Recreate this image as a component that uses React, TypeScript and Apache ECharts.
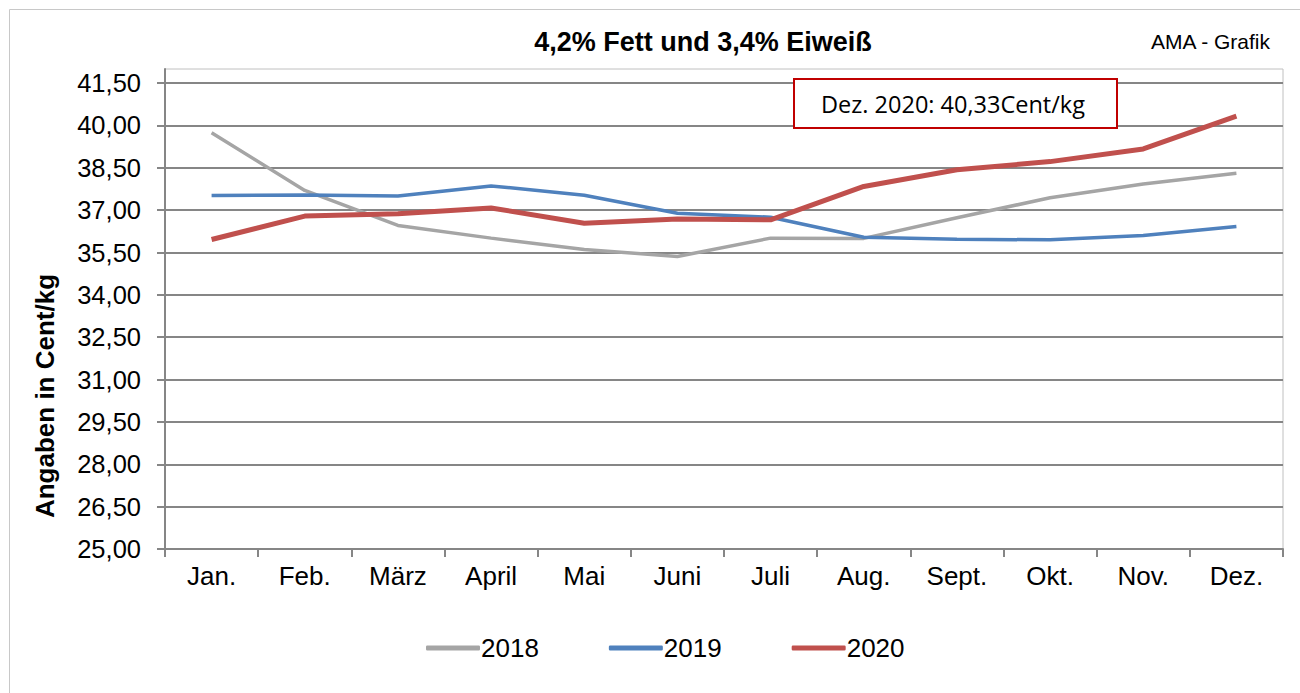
import React, { useEffect, useRef } from "react";
import * as echarts from "echarts";

const months = ["Jan.", "Feb.", "März", "April", "Mai", "Juni", "Juli", "Aug.", "Sept.", "Okt.", "Nov.", "Dez."];
const values2018 = [39.74, 37.7, 36.46, 36.01, 35.61, 35.36, 36.01, 36.0, 36.73, 37.44, 37.93, 38.31];
const values2019 = [37.52, 37.54, 37.5, 37.86, 37.53, 36.89, 36.75, 36.04, 35.97, 35.95, 36.1, 36.42];
const values2020 = [35.96, 36.79, 36.87, 37.08, 36.54, 36.69, 36.66, 37.84, 38.43, 38.72, 39.17, 40.33];
const yTicks = [25, 26.5, 28, 29.5, 31, 32.5, 34, 35.5, 37, 38.5, 40, 41.5];
const titleText = "4,2% Fett und 3,4% Eiweiß";
const sourceText = "AMA - Grafik";
const yAxisTitle = "Angaben in Cent/kg";
const noteText = "Dez. 2020: 40,33Cent/kg";

const FONT = "'Liberation Sans', Arial, sans-serif";

export default function App() {
  const ref = useRef<HTMLDivElement>(null);
  useEffect(() => {
    if (!ref.current) return;
    const chart = echarts.init(ref.current, undefined, { renderer: "svg" });
    const fmt = (v: number) => v.toFixed(2).replace(".", ",");
    chart.setOption({
      animation: false,
      backgroundColor: "#ffffff",
      textStyle: { fontFamily: FONT },
      grid: {
        left: 165,
        right: 17,
        top: 69,
        bottom: 144,
        show: true,
        borderColor: "#c0c0c0",
        borderWidth: 1,
        containLabel: false,
      },
      legend: {
        left: 421,
        top: 630,
        icon: "roundRect",
        itemWidth: 54,
        itemHeight: 5,
        itemGap: 70,
        textStyle: { fontFamily: FONT, fontSize: 26, color: "#000", padding: [0, 0, 0, -4] },
        data: ["2018", "2019", "2020"],
      },
      xAxis: {
        type: "category",
        data: months,
        boundaryGap: true,
        axisLine: { lineStyle: { color: "#868686", width: 2 } },
        axisTick: { show: true, length: 8, lineStyle: { color: "#868686", width: 2 } },
        axisLabel: { color: "#000", fontSize: 26, fontFamily: FONT, margin: 14 },
        splitLine: { show: false },
      },
      yAxis: {
        type: "value",
        min: 25,
        max: 42,
        axisLine: { show: true, lineStyle: { color: "#868686", width: 2 } },
        axisTick: { show: true, length: 8, customValues: yTicks, lineStyle: { color: "#868686", width: 2 } },
        axisLabel: { color: "#000", fontSize: 25.5, fontFamily: FONT, margin: 24, customValues: yTicks, formatter: fmt },
        splitLine: { show: true, lineStyle: { color: "#868686", width: 2 } },
      },
      series: [
        {
          name: "2018",
          type: "line",
          data: values2018,
          symbol: "none",
          lineStyle: { color: "#a5a5a5", width: 3.5 },
          itemStyle: { color: "#a5a5a5" },
        },
        {
          name: "2019",
          type: "line",
          data: values2019,
          symbol: "none",
          lineStyle: { color: "#4f81bd", width: 3.5 },
          itemStyle: { color: "#4f81bd" },
        },
        {
          name: "2020",
          type: "line",
          data: values2020,
          symbol: "none",
          lineStyle: { color: "#c0504d", width: 5 },
          itemStyle: { color: "#c0504d" },
        },
      ],
      graphic: [
        {
          type: "rect",
          shape: { x: 9.5, y: 9.5, width: 1300, height: 700 },
          style: { fill: "none", stroke: "#c8c8c8", lineWidth: 1 },
          silent: true,
        },
        {
          type: "text",
          x: 703,
          y: 42,
          style: {
            text: titleText,
            font: `bold 27px ${FONT}`,
            fill: "#000",
            textAlign: "center",
            textVerticalAlign: "middle",
          },
        },
        {
          type: "text",
          x: 1270,
          y: 41,
          style: {
            text: sourceText,
            font: `21px ${FONT}`,
            fill: "#000",
            textAlign: "right",
            textVerticalAlign: "middle",
          },
        },
        {
          type: "text",
          x: 45,
          y: 396,
          rotation: Math.PI / 2,
          style: {
            text: yAxisTitle,
            font: `bold 26px ${FONT}`,
            fill: "#000",
            textAlign: "center",
            textVerticalAlign: "middle",
          },
        },
        {
          type: "rect",
          shape: { x: 794, y: 79, width: 323, height: 49 },
          style: { fill: "#ffffff", stroke: "#c00000", lineWidth: 2 },
          z: 100,
        },
        {
          type: "text",
          x: 953,
          y: 104,
          z: 101,
          style: {
            text: noteText,
            font: `23.5px 'Open Sans', 'Noto Sans', sans-serif`,
            fill: "#000",
            textAlign: "center",
            textVerticalAlign: "middle",
          },
        },
      ],
    });
    return () => chart.dispose();
  }, []);
  return <div ref={ref} style={{ position: "fixed", left: 0, top: 0, width: 1300, height: 693 }} />;
}
